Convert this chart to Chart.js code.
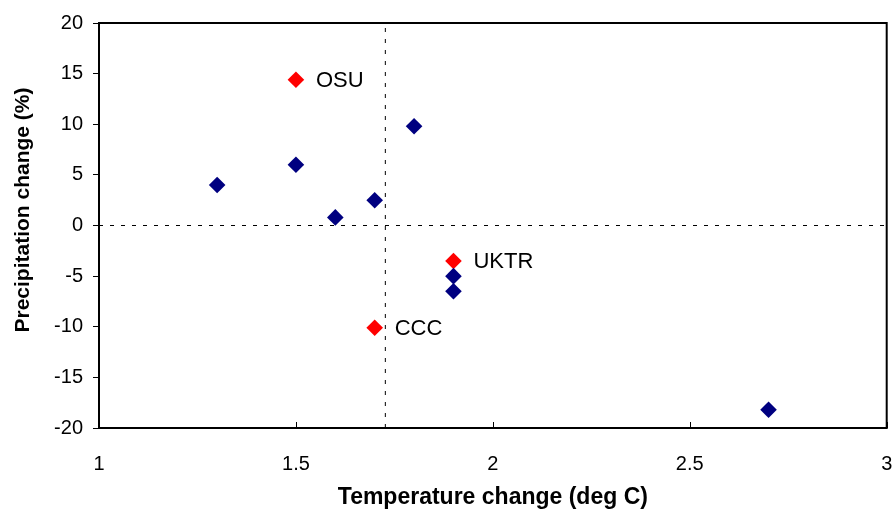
<!DOCTYPE html>
<html>
<head>
<meta charset="utf-8">
<script src="https://cdn.jsdelivr.net/npm/chart.js@4"></script>
<style>
  html, body { margin: 0; padding: 0; background: #fff; }
  #wrap { width: 895px; height: 513px; }
</style>
</head>
<body>
<div id="wrap"><canvas id="c" width="895" height="513"></canvas></div>
<script>
"use strict";

// model runs: temperature change (deg C) vs precipitation change (%)
const otherTemp = [1.3, 1.5, 1.6, 1.7, 1.8, 1.9, 1.9, 2.7];
const otherPrecip = [4.0, 6.0, 0.8, 2.5, 9.8, -5.0, -6.5, -18.2];

const namedLabels = ["OSU", "UKTR", "CCC"];
const namedTemp = [1.5, 1.9, 1.7];
const namedPrecip = [14.4, -3.5, -10.1];

// reference lines (mean temperature, zero precipitation)
const meanTemp = 1.727;
const xTicks = [1, 1.5, 2, 2.5, 3];
const yTicks = [-20, -15, -10, -5, 0, 5, 10, 15, 20];

const FONT = "'Liberation Sans', Arial, sans-serif";
const zip = (xs, ys) => xs.map((x, i) => ({ x, y: ys[i] }));

// frame, inward x ticks, y title and the point labels
const decor = {
  id: "decor",
  afterDatasetsDraw(chart) {
    const { ctx, chartArea: a, scales } = chart;
    ctx.save();
    ctx.strokeStyle = "#000";
    ctx.lineWidth = 1;
    xTicks.forEach((v) => {
      const px = Math.round(scales.x.getPixelForValue(v)) + 0.5;
      ctx.beginPath();
      ctx.moveTo(px, a.bottom);
      ctx.lineTo(px, a.bottom - 6);
      ctx.stroke();
    });
    ctx.lineWidth = 2;
    ctx.strokeRect(a.left, a.top, a.right - a.left, a.bottom - a.top);

    ctx.fillStyle = "#000";
    ctx.font = "22px " + FONT;
    ctx.textBaseline = "middle";
    chart.getDatasetMeta(1).data.forEach((pt, i) => {
      ctx.fillText(namedLabels[i], pt.x + 20, pt.y + 1);
    });

    // y title sits a little above the plot's middle, as in the original
    ctx.translate(23, 210);
    ctx.rotate(-Math.PI / 2);
    ctx.font = "bold 21px " + FONT;
    ctx.textAlign = "center";
    ctx.fillText("Precipitation change (%)", 0, 0);
    ctx.restore();
  },
};

new Chart(document.getElementById("c"), {
  type: "scatter",
  data: {
    datasets: [
      {
        data: zip(otherTemp, otherPrecip),
        backgroundColor: "#000080", borderColor: "#000080",
        pointStyle: "rectRot", pointRadius: 8.3, borderWidth: 0,
      },
      {
        data: zip(namedTemp, namedPrecip),
        backgroundColor: "#ff0000", borderColor: "#ff0000",
        pointStyle: "rectRot", pointRadius: 8.3, borderWidth: 0,
      },
      {
        data: [{ x: xTicks[0], y: 0 }, { x: xTicks[xTicks.length - 1], y: 0 }],
        showLine: true, pointRadius: 0, borderColor: "#000", borderWidth: 1,
        borderDash: [4, 7], order: 5,
      },
      {
        data: [{ x: meanTemp, y: yTicks[0] }, { x: meanTemp, y: yTicks[yTicks.length - 1] }],
        showLine: true, pointRadius: 0, borderColor: "#000", borderWidth: 1,
        borderDash: [4, 7], order: 5,
      },
    ],
  },
  options: {
    responsive: false, animation: false,
    layout: { padding: { top: 23, right: 7, left: 0, bottom: 0 } },
    plugins: { legend: { display: false }, tooltip: { enabled: false } },
    scales: {
      x: {
        type: "linear", min: 1, max: 3,
        afterBuildTicks: (s) => { s.ticks = xTicks.map((v) => ({ value: v })); },
        afterFit: (s) => { s.height = 85; s.paddingLeft = 0; s.paddingRight = 0; },
        grid: { display: false },
        border: { display: false },
        ticks: {
          color: "#000", padding: 16, font: { family: FONT, size: 20 },
          callback: (v) => String(v),
        },
        title: {
          display: true, text: "Temperature change (deg C)", color: "#000",
          font: { family: FONT, size: 23, weight: "bold" }, padding: { top: 4, bottom: 2 },
        },
      },
      y: {
        type: "linear", min: -20, max: 20,
        afterBuildTicks: (s) => { s.ticks = yTicks.map((v) => ({ value: v })); },
        afterFit: (s) => { s.width = 99; s.paddingTop = 0; s.paddingBottom = 0; },
        grid: { drawOnChartArea: false, drawTicks: true, tickLength: 6, color: "#000", lineWidth: 1 },
        border: { display: false },
        ticks: { color: "#000", padding: 10, font: { family: FONT, size: 20 } },
      },
    },
  },
  plugins: [decor],
});
</script>
</body>
</html>
